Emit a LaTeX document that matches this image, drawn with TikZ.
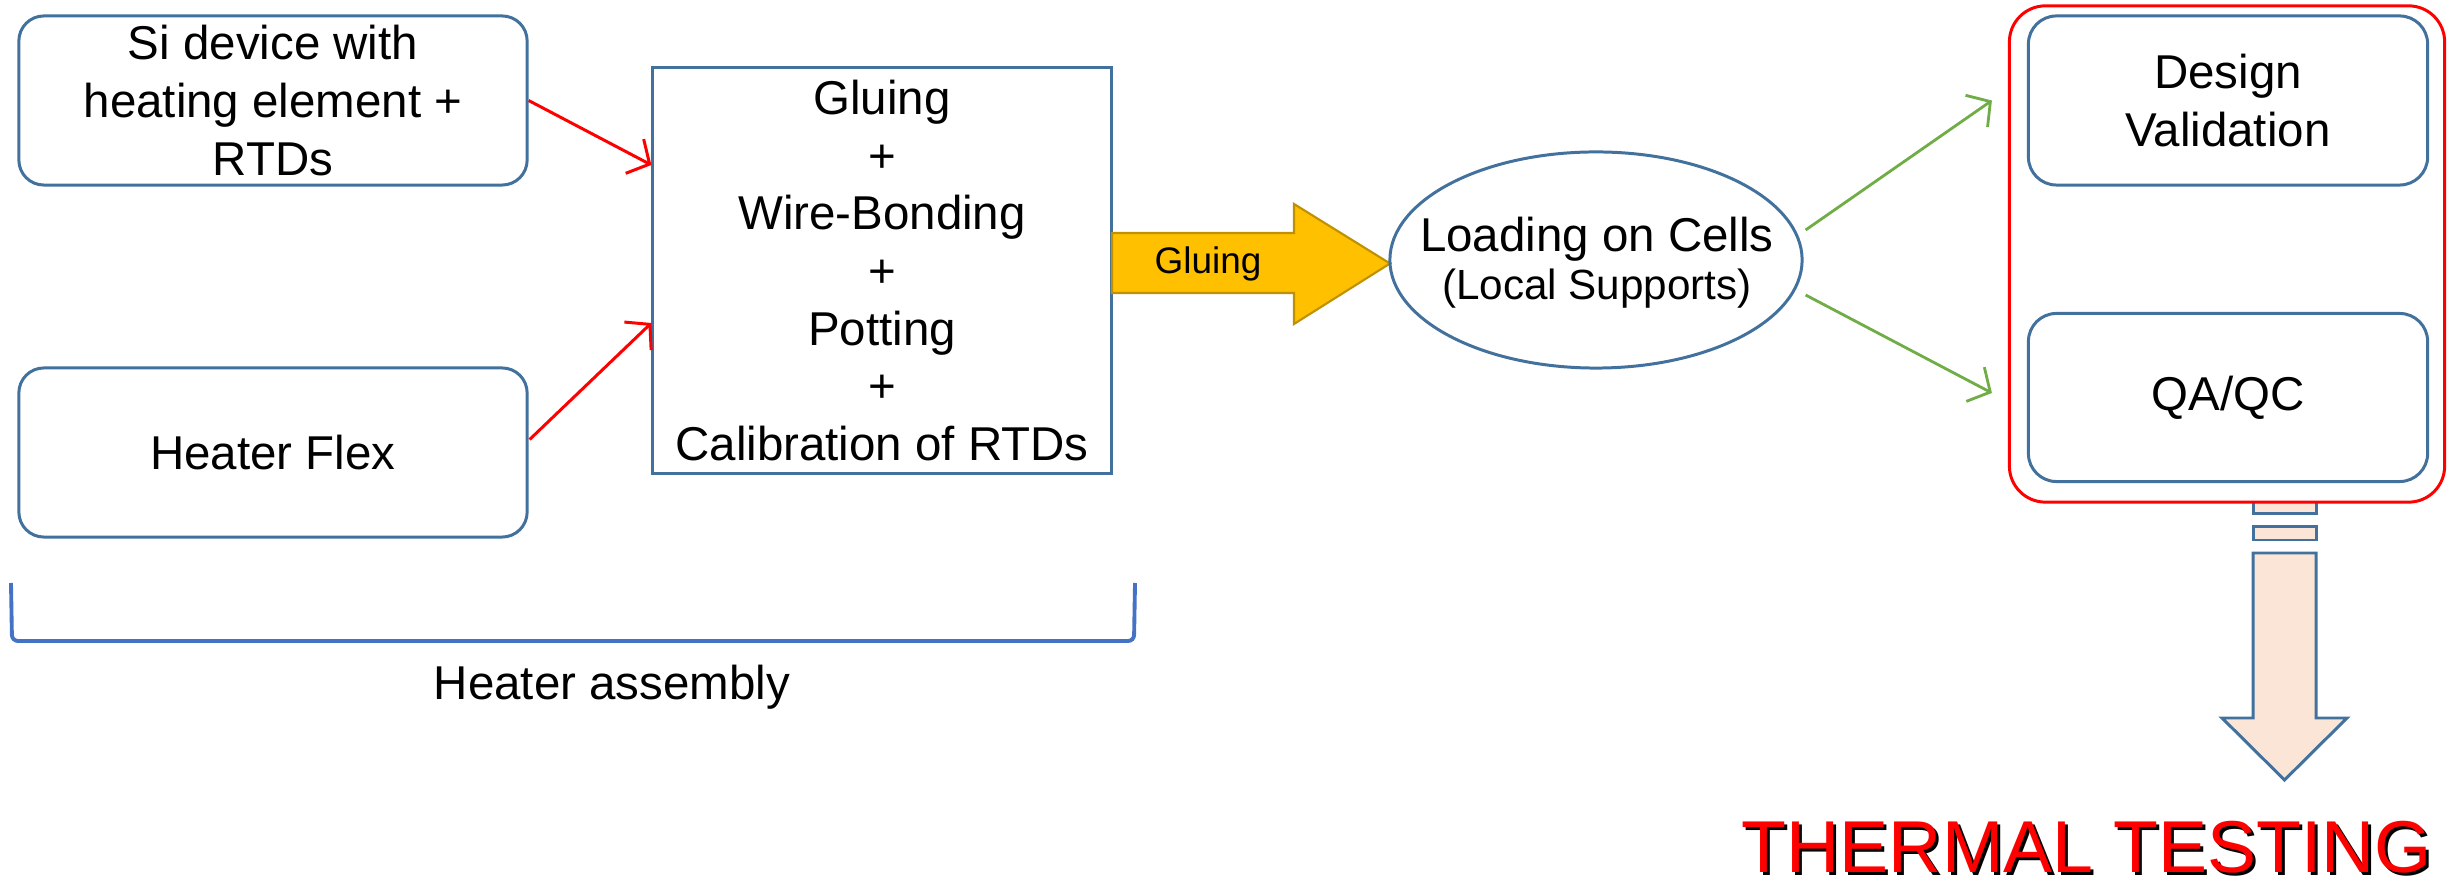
\documentclass[tikz,border=0pt]{standalone}
\usepackage{fontspec}
\setmainfont{Liberation Sans}
\usetikzlibrary{arrows.meta,shapes.geometric,calc}
\definecolor{boxblue}{RGB}{65,113,156}
\definecolor{bracketblue}{RGB}{68,114,196}
\definecolor{gold}{RGB}{255,192,0}
\definecolor{golddark}{RGB}{191,144,0}
\definecolor{peach}{RGB}{251,229,214}
\definecolor{arrgreen}{RGB}{112,173,71}
\begin{document}
\begin{tikzpicture}[x=0.01cm,y=-0.01cm,
  every node/.style={font=\fontsize{13.5pt}{16.4pt}\selectfont, align=center, inner sep=0pt},
  roundbox/.style={draw=boxblue, line width=0.85pt, rounded corners=0.25cm, minimum width=5.08cm, minimum height=1.69cm},
  sidebox/.style={draw=boxblue, line width=0.85pt, rounded corners=0.28cm, minimum width=3.99cm, minimum height=1.69cm},
  procbox/.style={draw=boxblue, line width=0.85pt, minimum width=4.58cm, minimum height=4.05cm},
  redarrow/.style={draw=red, line width=0.85pt, -{Straight Barb[length=4.8pt,width=11pt,line width=0.85pt]}},
  greenarrow/.style={draw=arrgreen, line width=0.8pt, -{Straight Barb[length=4.8pt,width=11pt,line width=0.8pt]}},
  downarrow/.style={fill=peach, draw=boxblue, line width=0.85pt, line join=miter},
  gluearrow/.style={fill=gold, draw=golddark, line width=0.6pt, line join=miter},
  bigtext/.style={anchor=base, font=\fontsize{20.9pt}{25pt}\selectfont}
]
\useasboundingbox (0,0) rectangle (2458,880);

% left boxes
\node[roundbox] (si) at (273,100.5) {Si device with\\heating element +\\RTDs};
\node[roundbox] (hf) at (273,452.5) {Heater Flex};

% process box
\node[procbox] (proc) at (882,270.5) {Gluing\\+\\Wire-Bonding\\+\\Potting\\+\\Calibration of RTDs};

% red connectors
\draw[redarrow] (si.east) -- ($(proc.west)+(0,-105.5)$);
\draw[redarrow] ($(hf.east)+(1,-13)$) -- ($(proc.west)+(0,52.5)$);

% gluing block arrow
\draw[gluearrow] (1112,233) -- (1294,233) -- (1294,204) -- (1390,263.5) -- (1294,324) -- (1294,293) -- (1112,293) -- cycle;
\node[font=\fontsize{10.5pt}{12pt}\selectfont] (gl) at (1208,264) {Gluing};

% ellipse
\node[ellipse, draw=boxblue, line width=0.85pt, minimum width=4.12cm, minimum height=2.16cm] (cells) at (1596,260) {};
\node[anchor=base] (cellsA) at (1597,252) {Loading on Cells};
\node[anchor=base, font=\fontsize{12pt}{14pt}\selectfont] (cellsB) at (1597,300) {(Local Supports)};

% striped down arrow (drawn below the red frame)
\draw[downarrow] (2253,495) rectangle (2316,514);
\draw[downarrow] (2253,527) rectangle (2316,540);
\draw[downarrow] (2253,553) -- (2316,553) -- (2316,718) -- (2347,718) -- (2284.5,780) -- (2222,718) -- (2253,718) -- cycle;

% red frame and right boxes
\node[draw=red, line width=0.85pt, fill=white, rounded corners=0.36cm, minimum width=4.35cm, minimum height=4.96cm] (grp) at (2227,254) {};
\node[sidebox] (dv) at (2228,100.5) {Design\\Validation};
\node[sidebox, minimum height=1.68cm] (qa) at (2228,397.5) {QA/QC};

% green connectors
\draw[greenarrow] ($(cells.east)+(2,-30)$) -- ($(dv.west)+(-35,0)$);
\draw[greenarrow] ($(cells.east)+(2,35)$) -- ($(qa.west)+(-35,-4.5)$);

% bracket
\draw[bracketblue, line width=1.1pt, rounded corners=0.06cm] (11,583) -- (12,641) -- (1134,641) -- (1135,583);
\node[anchor=base] (ha) at (612,700) {Heater assembly};

% thermal testing
\node[bigtext, text=black] (tts) at (2090,876) {THERMAL TESTING};
\node[bigtext, text=red] (tt) at (2087,873) {THERMAL TESTING};
\end{tikzpicture}
\end{document}
